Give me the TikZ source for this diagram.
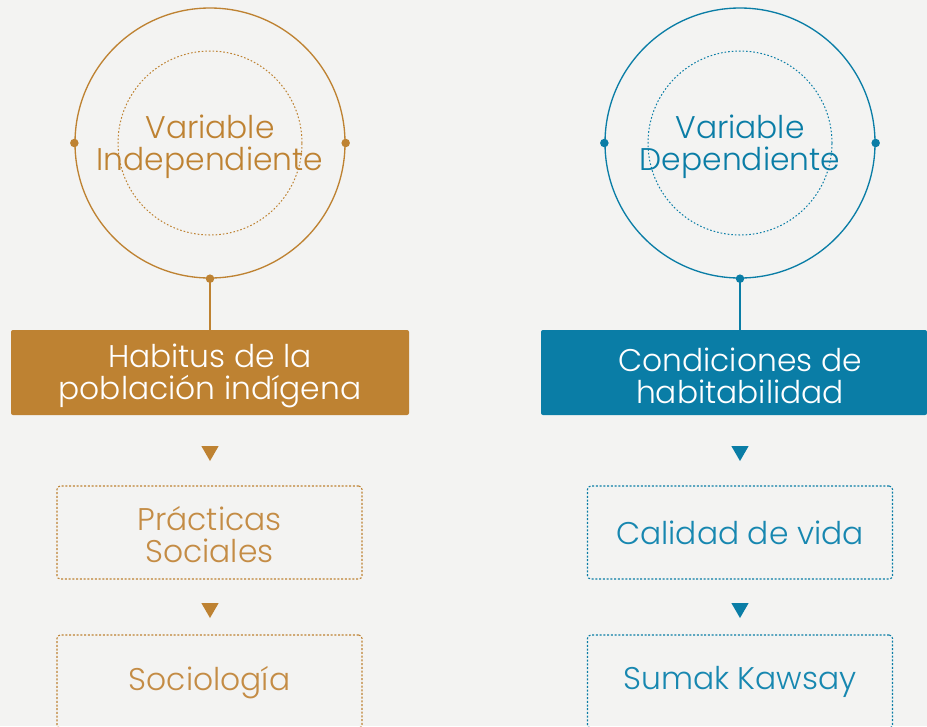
\documentclass[tikz,border=0pt]{standalone}
\usepackage{fontspec}
\setmainfont{Poppins}[UprightFont={* Light}]
\usepackage{xcolor}
\usetikzlibrary{shapes.geometric}

\definecolor{oro}{HTML}{BE8232}
\definecolor{orotxt}{HTML}{C48C45}
\definecolor{azul}{HTML}{0A7DA6}
\definecolor{azultxt}{HTML}{1787B0}
\definecolor{fondo}{HTML}{F3F3F2}

\tikzset{
  anillo/.style={circle, draw=#1, line width=1pt, minimum size=202.5pt, inner sep=0pt},
  nucleo/.style={circle, draw=#1, line width=0.75pt, dash pattern=on 1.2pt off 1.5pt,
    minimum size=138pt, inner sep=0pt},
  rotulo/.style={text=#1, align=center, font=\fontsize{23.5}{24}\selectfont, inner sep=0pt},
  caja/.style={rectangle, rounded corners=1.5pt, fill=#1, text=white, align=center,
    font=\fontsize{23.5}{24}\selectfont, inner sep=0pt},
  punteada/.style={rectangle, rounded corners=2.5pt, draw=#1, line width=0.8pt,
    dash pattern=on 1.5pt off 1.3pt, align=center, font=\fontsize{23.5}{24}\selectfont,
    inner sep=0pt, minimum width=228.75pt},
  flecha/.style={regular polygon, regular polygon sides=3, shape border rotate=180,
    fill=#1, minimum size=15pt, inner sep=0pt}
}

\begin{document}
\begin{tikzpicture}[x=0.75pt, y=-0.75pt]
			\useasboundingbox (0,0) rectangle (927,726);
			\clip (0,0) rectangle (927,726);
			\fill[fondo] (0,0) rectangle (927,726);

			% Circles (independent variable on the left)
			\node[anillo=oro] (anilloI) at (210,143) {};
			\node[nucleo=oro] (nucleoI) at (210,143) {};
			\node[rotulo=oro] (varI) at (210,147) {Variable\\Independiente};

			% Circles (dependent variable on the right)
			\node[anillo=azul] (anilloD) at (740,143) {};
			\node[nucleo=azul] (nucleoD) at (740,143) {};
			\node[rotulo=azul] (varD) at (740,147) {Variable\\Dependiente};

			% Filled boxes
			\node[caja=oro, minimum width=298.5pt, minimum height=63.75pt] (habitus) at (210,372.5) {};
			\node[caja=azul, minimum width=289.5pt, minimum height=63.75pt] (condiciones) at (734,372.5) {};
			\node[rotulo=white] at (210,376) {Habitus de la\\población indígena};
			\node[rotulo=white] at (740,376) {Condiciones de\\habitabilidad};

			% Dots on the rings
			\foreach \a in {west,east,south}
			{
			\fill[oro] (anilloI.\a) circle (3.2pt);
			\fill[azul] (anilloD.\a) circle (3.2pt);
			}

			% Stems down to the boxes
			\draw[oro, line width=1pt] (anilloI.south) -- (habitus.north);
			\draw[azul, line width=1pt] (anilloD.south) -- (anilloD.south |- condiciones.north);

			% Dotted boxes
			\node[punteada=oro, minimum height=69.75pt] (practicas) at (209.5,532.5) {};
			\node[punteada=oro, minimum height=69.75pt] (sociologia) at (209.5,681.5) {};
			\node[punteada=azul, minimum height=69.75pt] (calidad) at (740,532.5) {};
			\node[punteada=azul, minimum height=69.75pt] (sumak) at (740,681.5) {};
			\node[rotulo=orotxt] at (practicas.center) [yshift=-1.5pt] {Prácticas\\Sociales};
			\node[rotulo=orotxt] at (sociologia.center) [yshift=-1pt] {Sociología};
			\node[rotulo=azultxt] at (calidad.center) {Calidad de vida};
			\node[rotulo=azultxt] at (sumak.center) {Sumak Kawsay};

			% Triangles
			\node[flecha=oro] (t1) at (210,451) {};
			\node[flecha=oro] (t2) at (210,608) {};
			\node[flecha=azul] (t3) at (740,451) {};
			\node[flecha=azul] (t4) at (740,608) {};
		\end{tikzpicture}
\end{document}
